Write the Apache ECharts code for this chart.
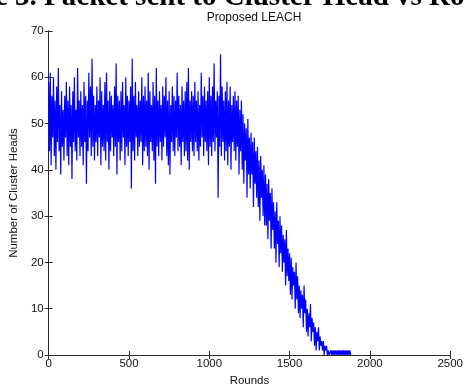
<!DOCTYPE html>
<html>
<head>
<meta charset="utf-8">
<script src="https://cdn.jsdelivr.net/npm/echarts@6/dist/echarts.min.js"></script>
<style>
  html, body { margin: 0; padding: 0; background: #fff; }
  #chart { width: 466px; height: 392px; }
</style>
</head>
<body>
<div id="chart"></div>
<script>
// one sample every 5 rounds, starting at round 0
const roundStep = 5;
const clusterHeads = [
  // 0-95
  59, 44, 61, 41, 56, 47, 60, 43, 55, 40, 58, 46, 62, 44, 54, 39, 57, 45, 53, 42,
  // 100-195
  56, 47, 59, 43, 55, 41, 58, 45, 54, 38, 57, 46, 60, 44, 53, 42, 62, 47, 55, 43,
  // 200-295
  57, 45, 54, 41, 59, 46, 56, 37, 55, 44, 61, 47, 58, 43, 64, 45, 56, 42, 54, 46,
  // 300-395
  58, 43, 55, 47, 60, 41, 57, 45, 54, 44, 59, 42, 61, 46, 55, 40, 57, 44, 56, 47,
  // 400-495
  54, 43, 58, 45, 63, 39, 56, 46, 55, 42, 57, 44, 59, 47, 54, 41, 60, 45, 56, 43,
  // 500-595
  55, 46, 58, 36, 64, 44, 56, 42, 59, 47, 54, 43, 57, 45, 55, 46, 60, 41, 56, 44,
  // 600-695
  58, 45, 55, 43, 61, 40, 57, 46, 54, 44, 59, 42, 56, 37, 62, 45, 55, 43, 57, 46,
  // 700-795
  54, 42, 58, 45, 56, 47, 60, 43, 55, 41, 57, 39, 54, 46, 58, 44, 56, 43, 55, 47,
  // 800-895
  61, 44, 56, 45, 54, 41, 58, 46, 55, 43, 57, 44, 59, 42, 62, 40, 55, 46, 57, 44,
  // 900-995
  56, 43, 59, 46, 55, 44, 57, 42, 54, 45, 61, 47, 56, 43, 58, 46, 55, 44, 57, 41,
  // 1000-1095
  60, 45, 56, 43, 58, 46, 63, 44, 55, 47, 57, 34, 56, 45, 65, 43, 58, 46, 55, 42,
  // 1100-1150
  57, 44, 59, 41, 55, 45, 58, 40, 54, 46, 56,
  // 1155-1250
  44, 57, 42, 55, 45, 56, 39, 53, 44, 55,
  40, 52, 37, 50, 42, 49, 34, 51, 39, 47,
  // 1255-1350
  36, 48, 39, 46, 32, 47, 37, 44, 34, 45,
  32, 42, 29, 43, 34, 40, 30, 41, 28, 39,
  // 1355-1450
  28, 37, 25, 38, 29, 35, 23, 36, 27, 33,
  23, 31, 20, 33, 24, 29, 19, 30, 22, 28,
  // 1455-1550
  18, 26, 20, 25, 15, 27, 17, 23, 16, 22,
  13, 21, 12, 19, 15, 18, 10, 20, 12, 17,
  // 1555-1650
  9, 15, 8, 14, 10, 13, 6, 15, 9, 12,
  5, 10, 4, 9, 6, 11, 3, 8, 5, 7,
  // 1655-1750
  2, 6, 1, 5, 3, 6, 1, 4, 2, 3,
  1, 3, 0, 2, 1, 2, 0, 1, 0, 0,
  // 1755-1880
  1, 0, 1, 0, 1, 0, 1, 0, 1, 0, 1, 0, 1, 0, 1, 0, 1, 0, 1, 0, 1, 0, 1, 0, 1, 0
];
const xTicks = [0, 500, 1000, 1500, 2000, 2500];
const yTicks = [0, 10, 20, 30, 40, 50, 60, 70];

const chart = echarts.init(document.getElementById('chart'));
const axisColor = '#2b2b2b';
const labelFont = { color: '#111', fontSize: 11.5, fontFamily: 'Liberation Sans' };

const option = {
  animation: false,
  backgroundColor: '#fff',
  title: {
    text: 'Proposed LEACH',
    left: 249,
    textAlign: 'center',
    top: 7,
    textStyle: { color: '#111', fontSize: 12, fontWeight: 'normal', fontFamily: 'Liberation Sans' }
  },
  graphic: [{
    // caption of the page above, cut off by the crop
    type: 'text',
    style: {
      x: -5,
      y: 12,
      verticalAlign: 'bottom',
      text: 'e 3. Packet sent to Cluster Head vs Ro',
      font: 'bold 29px "Liberation Serif"',
      fill: '#000'
    }
  }],
  grid: { left: 44, right: 11, top: 31, bottom: 33 },
  xAxis: [{
    type: 'value',
    min: xTicks[0],
    max: xTicks[xTicks.length - 1],
    interval: 500,
    name: 'Rounds',
    nameLocation: 'middle',
    nameGap: 20,
    nameTextStyle: labelFont,
    axisLine: { lineStyle: { color: axisColor, width: 1 } },
    axisTick: { inside: true, length: 4, lineStyle: { color: axisColor } },
    axisLabel: Object.assign({ margin: 3, formatter: v => String(v) }, labelFont),
    splitLine: { show: false }
  }, {
    type: 'value',
    position: 'top',
    min: xTicks[0],
    max: xTicks[xTicks.length - 1],
    interval: 500,
    axisLine: { show: true, lineStyle: { color: axisColor, width: 1 } },
    axisTick: { inside: true, length: 4, lineStyle: { color: axisColor } },
    axisLabel: { show: false },
    splitLine: { show: false }
  }],
  yAxis: [{
    type: 'value',
    min: yTicks[0],
    max: yTicks[yTicks.length - 1],
    interval: 10,
    name: 'Number of Cluster Heads',
    nameLocation: 'middle',
    nameGap: 22,
    nameTextStyle: labelFont,
    axisLine: { show: true, lineStyle: { color: axisColor, width: 1 } },
    axisTick: { show: true, inside: true, length: 4, lineStyle: { color: axisColor } },
    axisLabel: Object.assign({ margin: 5, formatter: v => String(v) }, labelFont),
    splitLine: { show: false }
  }, {
    type: 'value',
    position: 'right',
    min: yTicks[0],
    max: yTicks[yTicks.length - 1],
    interval: 10,
    axisLine: { show: true, lineStyle: { color: axisColor, width: 1 } },
    axisTick: { show: true, inside: true, length: 4, lineStyle: { color: axisColor } },
    axisLabel: { show: false },
    splitLine: { show: false }
  }],
  series: [{
    type: 'line',
    data: clusterHeads.map((v, i) => [i * roundStep, v]),
    showSymbol: false,
    lineStyle: { color: '#0000ff', width: 1.2 },
    xAxisIndex: 0,
    yAxisIndex: 0
  }]
};
chart.setOption(option);
</script>
</body>
</html>
